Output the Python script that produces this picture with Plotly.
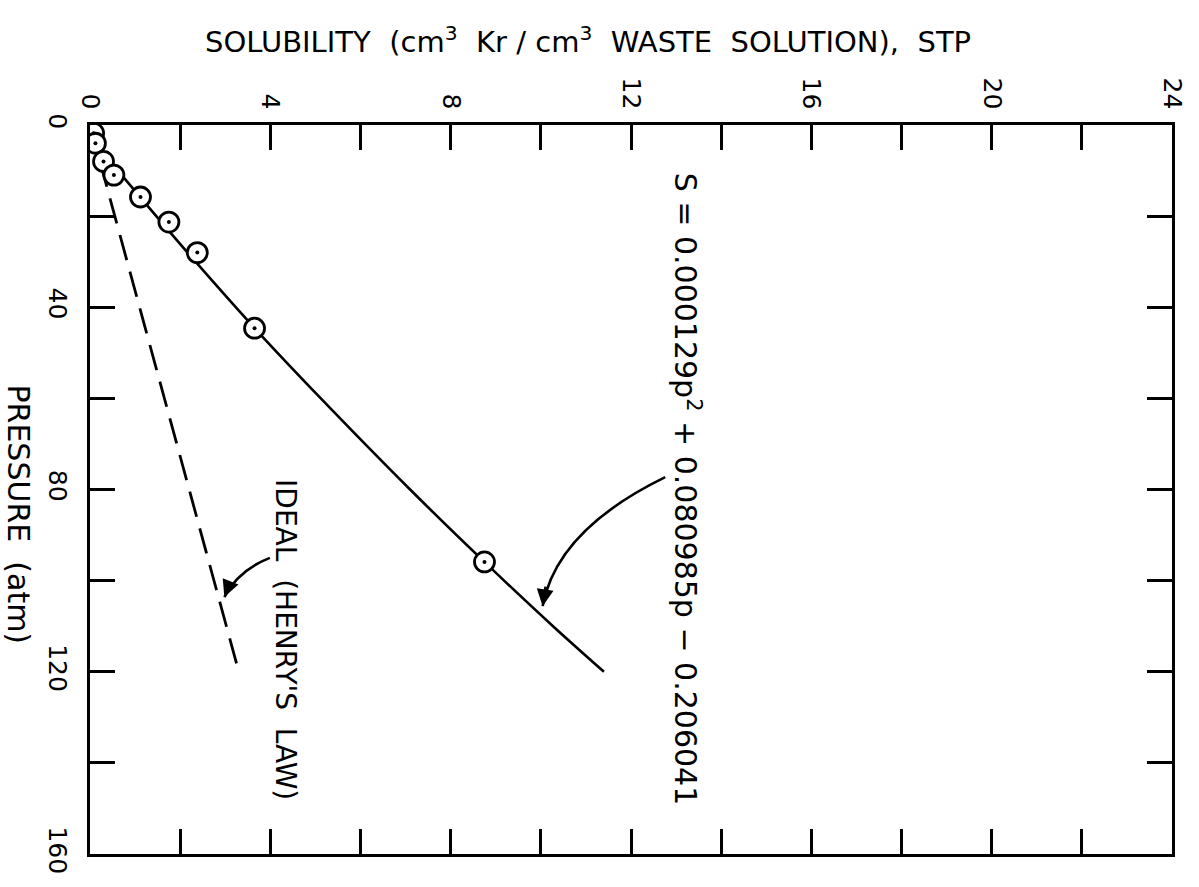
import plotly.graph_objects as go

# Measured data points (pressure atm, solubility cm3/cm3)
pressure_pts = [1.8, 4.0, 8.0, 11.0, 15.8, 21.3, 28.0, 44.6, 95.9]
solub_pts = [0.08, 0.12, 0.30, 0.53, 1.12, 1.75, 2.38, 3.65, 8.75]

# Fitted curve
curve_p = [2.5, 5, 10, 20, 30, 45, 60, 80, 96, 110, 120]
curve_s = [0.0, 0.20, 0.62, 1.47, 2.34, 3.69, 5.12, 7.10, 8.76, 10.27, 11.40]

# Ideal (Henry's law) line
ideal_p = [0, 120]
ideal_s = [0.0, 3.3]

x_ticks = [0, 4, 8, 12, 16, 20, 24]
y_ticks = [0, 40, 80, 120, 160]

FONT = "DejaVu Sans, Liberation Sans, sans-serif"
BLACK = "#000000"

fig = go.Figure()

fig.add_trace(go.Scatter(x=ideal_s, y=ideal_p, mode="lines",
                         line=dict(color=BLACK, width=2.8, dash="26px,12px"),
                         hoverinfo="skip", showlegend=False))
fig.add_trace(go.Scatter(x=curve_s, y=curve_p, mode="lines",
                         line=dict(color=BLACK, width=2.6, shape="spline"),
                         hoverinfo="skip", showlegend=False))
fig.add_trace(go.Scatter(x=solub_pts, y=pressure_pts, mode="markers",
                         marker=dict(symbol="circle", size=20, color="white",
                                     line=dict(color=BLACK, width=2.8)),
                         hoverinfo="skip", showlegend=False))
fig.add_trace(go.Scatter(x=solub_pts, y=pressure_pts, mode="markers",
                         marker=dict(symbol="circle", size=4, color=BLACK),
                         hoverinfo="skip", showlegend=False))

# curved arrow bodies
eq_arrow = dict(s0=12.76, p0=77.3, sc=10.35, pc=88.9, s1=10.04, p1=105.6)
id_arrow = dict(s0=3.99, p0=95.0, sc=3.29, pc=97.7, s1=2.98, p1=103.6)
for a in (eq_arrow, id_arrow):
    fig.add_shape(type="path", xref="x", yref="y",
                  path=f"M {a['s0']},{a['p0']} Q {a['sc']},{a['pc']} {a['s1']},{a['p1']}",
                  line=dict(color=BLACK, width=2.6))

fig.add_annotation(x=10.04, y=105.6, ax=10.11, ay=101.0, xref="x", yref="y",
                   axref="x", ayref="y", text="", showarrow=True, arrowhead=2,
                   arrowsize=1.3, arrowwidth=2.6, arrowcolor=BLACK)
fig.add_annotation(x=2.98, y=103.6, ax=3.10, ay=100.6, xref="x", yref="y",
                   axref="x", ayref="y", text="", showarrow=True, arrowhead=2,
                   arrowsize=1.3, arrowwidth=2.6, arrowcolor=BLACK)

# text labels
fig.add_annotation(x=13.25, y=79.9, xref="x", yref="y", showarrow=False,
                   text="S = 0.000129p<sup>2</sup> + 0.080985p − 0.206041",
                   textangle=90, xanchor="center", yanchor="middle",
                   font=dict(family=FONT, size=30, color=BLACK))
fig.add_annotation(x=4.32, y=113, xref="x", yref="y", showarrow=False,
                   text="IDEAL  (HENRY'S  LAW)",
                   textangle=90, xanchor="center", yanchor="middle",
                   font=dict(family=FONT, size=28, color=BLACK))
fig.add_annotation(x=0.46, y=1.117, xref="paper", yref="paper", showarrow=False,
                   xanchor="center", yanchor="middle",
                   text="SOLUBILITY  (cm<sup>3</sup>  Kr / cm<sup>3</sup>  WASTE  SOLUTION),  STP",
                   font=dict(family=FONT, size=29, color=BLACK))
fig.add_annotation(x=-0.0658, y=0.466, xref="paper", yref="paper", showarrow=False,
                   text="PRESSURE  (atm)", textangle=90,
                   xanchor="center", yanchor="middle",
                   font=dict(family=FONT, size=30, color=BLACK))

axis_common = dict(showgrid=False, zeroline=False, showline=True, linecolor=BLACK,
                   linewidth=2.8, mirror="ticks", ticks="inside", ticklen=25,
                   tickwidth=2.8, tickcolor=BLACK, tickangle=90,
                   tickfont=dict(family=FONT, size=25, color=BLACK))

fig.update_xaxes(range=[0, 24], side="top", tickmode="array", tickvals=x_ticks,
                 ticktext=[str(v) for v in x_ticks],
                 minor=dict(dtick=2, ticks="inside", ticklen=25, tickwidth=2.8,
                            tickcolor=BLACK, showgrid=False),
                 ticklabelstandoff=4,
                 **axis_common)
fig.update_yaxes(range=[160, 0], tickmode="array", tickvals=y_ticks,
                 ticktext=[str(v) for v in y_ticks],
                 minor=dict(dtick=20, ticks="inside", ticklen=25, tickwidth=2.8,
                            tickcolor=BLACK, showgrid=False),
                 ticklabelstandoff=8,
                 **axis_common)

fig.update_layout(width=1199, height=887, autosize=False,
                  margin=dict(l=90, r=15, t=125, b=33),
                  paper_bgcolor="white", plot_bgcolor="white",
                  showlegend=False)

fig.write_html("out.html")
